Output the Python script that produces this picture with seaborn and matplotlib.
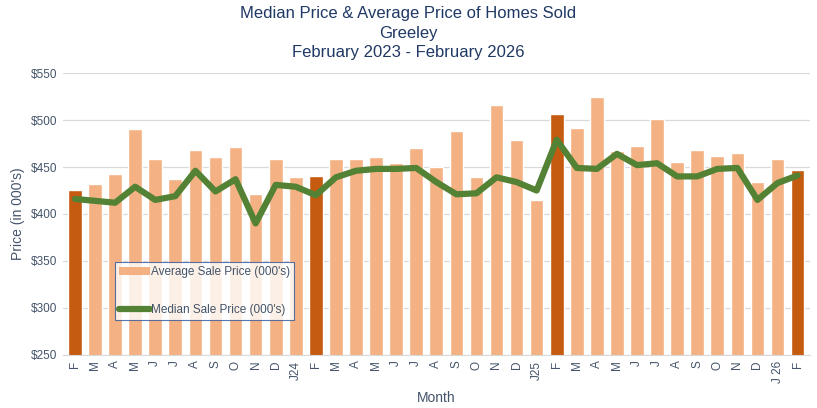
import numpy as np
import matplotlib
matplotlib.use("Agg")
import matplotlib.pyplot as plt
import seaborn as sns
from matplotlib.patches import Patch
from matplotlib.lines import Line2D

months = ["F", "M", "A", "M", "J", "J", "A", "S", "O", "N", "D", "J24",
          "F", "M", "A", "M", "J", "J", "A", "S", "O", "N", "D", "J25",
          "F", "M", "A", "M", "J", "J", "A", "S", "O", "N", "D", "J 26", "F"]
avg_price = [426, 432, 443, 490, 458, 437, 468, 461, 471, 421, 459, 439,
             440, 459, 459, 461, 454, 470, 450, 488, 439, 516, 479, 415,
             506, 491, 524, 467, 472, 501, 455, 468, 462, 465, 434, 458, 447]
median_price = [416, 414, 412, 429, 415, 419, 446, 424, 437, 390, 431, 429,
                420, 439, 446, 448, 448, 449, 434, 421, 422, 439, 434, 425,
                479, 449, 448, 464, 452, 454, 440, 440, 448, 449, 415, 433, 441]

light = "#F4B183"
dark = "#C55A11"
green = "#548235"
navy = "#1F3864"
tick_col = "#44546A"

sns.set_style("white")
plt.rcParams["font.family"] = ["Liberation Sans", "DejaVu Sans"]

x = np.arange(len(months))
colors = [dark if m == "F" else light for m in months]

fig = plt.figure(figsize=(8.17, 4.08), dpi=100)
ax = fig.add_axes([0.077, 0.130, 0.914, 0.691])

sns.barplot(x=x, y=avg_price, hue=x, palette=colors, legend=False,
            width=0.68, saturation=1, ax=ax, zorder=2)
sns.lineplot(x=x, y=median_price, color=green, linewidth=4.5, ax=ax, zorder=3)

ax.set_ylim(250, 550)
ax.set_xlim(-0.6, len(months) - 0.4)
ax.set_yticks(range(250, 551, 50))
ax.set_yticklabels([f"${v}" for v in range(250, 551, 50)], color=tick_col, fontsize=8.5)
ax.set_xticks(x)
ax.set_xticklabels(months, rotation=90, color=tick_col, fontsize=8.5)
ax.tick_params(axis="both", length=0, pad=4)
ax.grid(axis="y", color="#D9D9D9", linewidth=0.9, zorder=0)
ax.set_axisbelow(True)
for s in ["top", "right", "left"]:
    ax.spines[s].set_visible(False)
ax.spines["bottom"].set_color("#D9D9D9")

ax.set_ylabel("Price (in 000's)", color=tick_col, fontsize=10)
ax.set_xlabel("Month", color=tick_col, fontsize=10, labelpad=6)

fig.suptitle("Median Price & Average Price of Homes Sold\nGreeley\nFebruary 2023 - February 2026",
             color=navy, fontsize=12, y=0.985, linespacing=1.38)

handles = [Patch(facecolor=light, edgecolor="none"),
           Line2D([0], [0], color=green, linewidth=4.5)]
leg = ax.legend(handles, ["Average Sale Price (000's)", "Median Sale Price (000's)"],
                loc="upper left", bbox_to_anchor=(0.070, 0.330), frameon=True,
                fancybox=False, edgecolor="#2F5597", fontsize=8.5,
                labelspacing=2.2, handlelength=2.6, handletextpad=0.1,
                borderpad=0.35, borderaxespad=0)
for t in leg.get_texts():
    t.set_color(tick_col)
leg.get_frame().set_linewidth(0.8)

fig.savefig("out.png", dpi=100)
